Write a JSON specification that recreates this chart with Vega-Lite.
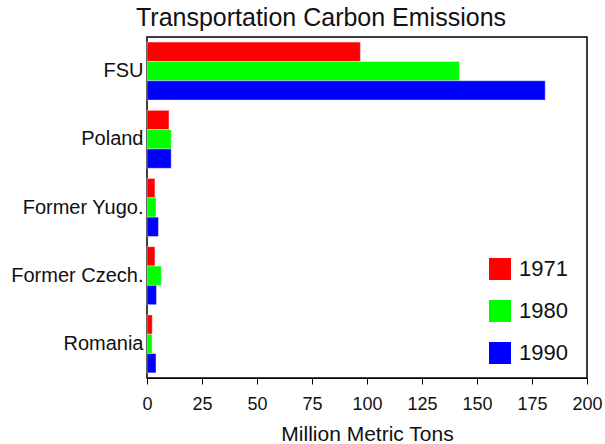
{
  "$schema": "https://vega.github.io/schema/vega-lite/v6.json",
  "autosize": "none",
  "padding": {"left": 147, "top": 37, "right": 18, "bottom": 66},
  "width": 440,
  "height": 341,
  "background": "white",
  "title": {"text": "Transportation Carbon Emissions", "font": "Liberation Sans", "fontSize": 25, "fontWeight": "normal", "color": "#111", "anchor": "middle", "dx": -46, "offset": 6},
  "data": {"values": [
    {"country": "FSU", "year": "1971", "value": 97},
    {"country": "FSU", "year": "1980", "value": 142},
    {"country": "FSU", "year": "1990", "value": 181},
    {"country": "Poland", "year": "1971", "value": 10},
    {"country": "Poland", "year": "1980", "value": 11},
    {"country": "Poland", "year": "1990", "value": 11},
    {"country": "Former Yugo.", "year": "1971", "value": 3.6},
    {"country": "Former Yugo.", "year": "1980", "value": 4.1},
    {"country": "Former Yugo.", "year": "1990", "value": 5.2},
    {"country": "Former Czech.", "year": "1971", "value": 3.6},
    {"country": "Former Czech.", "year": "1980", "value": 6.5},
    {"country": "Former Czech.", "year": "1990", "value": 4.3},
    {"country": "Romania", "year": "1971", "value": 2.4},
    {"country": "Romania", "year": "1980", "value": 2.3},
    {"country": "Romania", "year": "1990", "value": 4.1}
  ]},
  "mark": {"type": "bar", "stroke": "white", "strokeOpacity": 0.4, "strokeWidth": 1},
  "encoding": {
    "y": {"field": "country", "type": "nominal", "sort": ["FSU", "Poland", "Former Yugo.", "Former Czech.", "Romania"],
      "scale": {"paddingInner": 0.15, "paddingOuter": 0.075},
      "axis": {"title": null, "ticks": false, "domain": false, "labelFont": "Liberation Sans", "labelFontSize": 20, "labelColor": "#111", "labelPadding": 4}},
    "yOffset": {"field": "year", "type": "nominal", "scale": {"paddingInner": 0, "paddingOuter": 0}},
    "x": {"field": "value", "type": "quantitative", "scale": {"domain": [0, 200], "nice": false},
      "axis": {"title": "Million Metric Tons", "values": [0, 25, 50, 75, 100, 125, 150, 175, 200], "grid": false,
        "tickColor": "black", "tickSize": 6, "tickWidth": 1, "domainColor": "black",
        "labelFont": "Liberation Sans", "labelFontSize": 18, "labelColor": "#111", "labelPadding": 11, "labelFlush": false,
        "titleFont": "Liberation Sans", "titleFontSize": 21, "titleFontWeight": "normal", "titleColor": "#111", "titlePadding": 10}},
    "color": {"field": "year", "type": "nominal",
      "scale": {"domain": ["1971", "1980", "1990"], "range": ["#ff0000", "#00ff00", "#0000ff"]},
      "legend": {"title": null, "orient": "none", "legendX": 342, "legendY": 221, "symbolType": "square", "symbolSize": 484,
        "symbolStrokeWidth": 0, "labelFont": "Liberation Sans", "labelFontSize": 22, "labelColor": "#111", "rowPadding": 20, "labelOffset": 8, "padding": 0}}
  },
  "config": {"view": {"stroke": "black", "strokeWidth": 1.5}}
}
